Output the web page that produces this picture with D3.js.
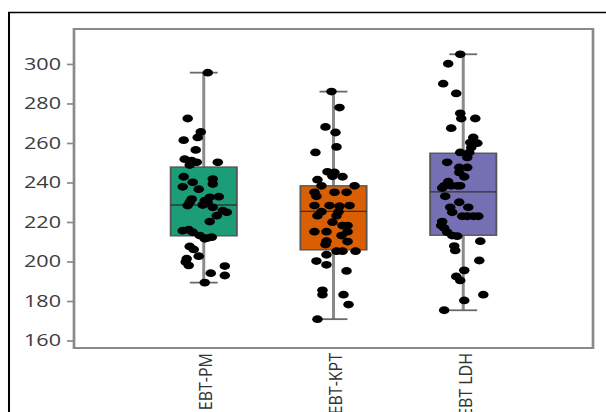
<!DOCTYPE html>
<html>
<head>
<meta charset="utf-8">
<script src="https://cdn.jsdelivr.net/npm/d3@7"></script>
<style>
  html, body { margin: 0; padding: 0; background: #fff; }
  svg { display: block; }
  text { font-family: "Open Sans", "Noto Sans", sans-serif; }
</style>
</head>
<body>
<svg id="chart" width="606" height="412"></svg>
<script>
// Groups on the x axis
const categories = ["EBT-PM", "EBT-KPT", "EBT LDH"];
const boxColors = ["#1b9e77", "#d95f02", "#7570b3"];

// Box statistics per group
const lows    = [189.3, 170.8, 175.3];
const q1s     = [213.0, 205.9, 213.3];
const medians = [228.6, 225.4, 235.2];
const q3s     = [247.8, 238.3, 254.8];
const highs   = [295.6, 286.0, 304.9];

// Individual observations per group
const valuesPM = [295.6, 272.4, 265.6, 262.8, 261.4, 256.5, 251.8, 251.0, 250.2, 250.2,
  248.8, 242.9, 241.7, 240.1, 239.2, 237.8, 236.6, 232.8, 232.5, 231.6, 230.0, 230.8,
  229.6, 228.3, 228.6, 227.4, 225.7, 224.9, 223.2, 220.2, 215.6, 216.1, 214.8, 213.1,
  211.8, 212.3, 211.5, 207.6, 206.1, 202.7, 201.4, 199.7, 198.0, 197.7, 194.1, 192.9, 189.3];
const valuesKPT = [286.0, 277.9, 268.1, 265.3, 258.0, 255.2, 245.4, 245.1, 243.1, 242.9,
  241.4, 238.3, 238.3, 235.0, 235.0, 235.0, 233.0, 228.3, 228.3, 228.0, 228.3, 225.2,
  223.2, 225.2, 223.2, 219.9, 218.2, 218.2, 215.1, 215.1, 215.1, 213.1, 210.3, 208.6,
  210.1, 205.2, 205.2, 205.2, 203.4, 200.2, 198.3, 195.2, 185.4, 183.2, 183.2, 178.2, 170.8];
const valuesLDH = [304.9, 300.1, 290.0, 285.1, 275.0, 272.4, 272.4, 267.5, 262.8, 260.2,
  259.9, 257.7, 255.2, 255.2, 252.7, 250.2, 247.6, 247.6, 245.1, 242.9, 240.4, 238.3,
  238.3, 237.2, 238.3, 238.3, 233.0, 230.0, 227.4, 227.4, 224.9, 222.9, 222.9, 222.9,
  222.9, 220.2, 218.2, 216.9, 214.8, 213.1, 212.8, 210.3, 207.8, 205.6, 200.5, 195.5,
  192.4, 190.4, 183.2, 180.3, 175.3];

// Horizontal jitter of each observation (-33 .. 33 spans the box width)
const jitterPM = [4, -16, -3, -6, -20, -8, -19, -12, -7, 14, -14, -20, 9, -11, 9, -21, -5,
  15, 6, -12, -14, 1, 4, -16, -1, 9, 19, 23, 13, 6, -21, -15, -11, -4, 3, 8, 1, -14, -10,
  -5, -17, -18, -15, 21, 7, 21, 1];
const jitterKPT = [-2, 6, -8, 2, 3, -18, -6, 1, -1, 9, -16, -12, 21, -19, 1, 13, -17, -19,
  -4, 6, 16, -12, -16, 5, 3, -1, 9, 14, -19, -7, 14, 8, -7, -8, 14, 3, 9, 22, -7, -17, -7,
  13, -11, -11, 10, 15, -16];
const jitterLDH = [-3, -15, -20, -7, -3, -2, 12, -12, 10, 7, 14, 8, -3, 6, 4, -16, -4, 4,
  -4, 1, -15, -19, -6, -21, -12, -3, -18, -4, -13, 5, -11, -1, 4, 10, 15, -21, -22, -19,
  -16, -11, -6, 17, -9, -8, 16, 1, -7, -3, 20, 1, -19];

const yTicks = [160, 180, 200, 220, 240, 260, 280, 300];

const groupValues = [valuesPM, valuesKPT, valuesLDH];
const groupJitter = [jitterPM, jitterKPT, jitterLDH];

// The whole figure is drawn horizontally widened
const SX = 1.35;
const plotLeft = 74 / SX, plotRight = 593 / SX, plotTop = 29, plotBottom = 348;

const svg = d3.select("#chart");
const g = svg.append("g").attr("transform", `scale(${SX},1)`);

const x = d3.scalePoint().domain(categories).range([plotLeft, plotRight]).padding(1);
const y = d3.scaleLinear().domain([156.2, 317.7]).range([plotBottom, plotTop]);
const step = x.step();
const boxW = step * 0.51;
const capW = step * 0.215;
const jit = d3.scaleLinear().domain([-33, 33]).range([-boxW / 2, boxW / 2]);

// outer frame
g.append("rect")
  .attr("x", 9 / SX).attr("y", 12.5)
  .attr("width", 700).attr("height", 600)
  .attr("fill", "none").attr("stroke", "#000").attr("stroke-width", 1.5);

// plot frame
g.append("rect")
  .attr("x", plotLeft).attr("y", plotTop)
  .attr("width", plotRight - plotLeft).attr("height", plotBottom - plotTop)
  .attr("fill", "none").attr("stroke", "#8a8a8a").attr("stroke-width", 2);

// y axis
const yAxis = g.append("g")
  .attr("transform", `translate(${plotLeft},0)`)
  .call(d3.axisLeft(y).tickValues(yTicks).tickSize(7 / SX).tickPadding(6 / SX));
yAxis.select(".domain").remove();
yAxis.selectAll(".tick line").attr("stroke", "#8a8a8a").attr("stroke-width", 1.7);
yAxis.selectAll(".tick text")
  .attr("fill", "#3c3c3c")
  .style("font-size", "16px")
  .style("font-family", "'Open Sans', 'Noto Sans', sans-serif");

// boxes
const stats = categories.map((c, i) => ({
  cat: c, color: boxColors[i], low: lows[i], q1: q1s[i], med: medians[i], q3: q3s[i], high: highs[i]
}));

const box = g.selectAll(".box").data(stats).join("g").attr("class", "box");

box.append("line")
  .attr("x1", d => x(d.cat)).attr("x2", d => x(d.cat))
  .attr("y1", d => y(d.high)).attr("y2", d => y(d.low))
  .attr("stroke", "#8a8a8a").attr("stroke-width", 2.2);

box.selectAll(".cap").data(d => [{ cat: d.cat, v: d.high }, { cat: d.cat, v: d.low }])
  .join("line").attr("class", "cap")
  .attr("x1", d => x(d.cat) - capW / 2).attr("x2", d => x(d.cat) + capW / 2)
  .attr("y1", d => y(d.v)).attr("y2", d => y(d.v))
  .attr("stroke", "#6a6a6a").attr("stroke-width", 1.8);

box.append("rect")
  .attr("x", d => x(d.cat) - boxW / 2).attr("width", boxW)
  .attr("y", d => y(d.q3)).attr("height", d => y(d.q1) - y(d.q3))
  .attr("fill", d => d.color).attr("stroke", "#555").attr("stroke-width", 1.4);

box.append("line")
  .attr("x1", d => x(d.cat) - boxW / 2).attr("x2", d => x(d.cat) + boxW / 2)
  .attr("y1", d => y(d.med)).attr("y2", d => y(d.med))
  .attr("stroke", "#333").attr("stroke-width", 1.3);

// jittered observations
const points = [];
categories.forEach((c, i) => {
  groupValues[i].forEach((v, k) => points.push({ cat: c, v, j: groupJitter[i][k] }));
});
g.selectAll(".pt").data(points).join("circle").attr("class", "pt")
  .attr("cx", d => x(d.cat) + jit(d.j))
  .attr("cy", d => y(d.v))
  .attr("r", 3.9)
  .attr("fill", "#000");

// category labels, rotated
g.selectAll(".xlab").data(categories).join("text").attr("class", "xlab")
  .attr("transform", d => `translate(${x(d) + 2 / SX},353) scale(0.8,1) rotate(-90)`)
  .attr("text-anchor", "end")
  .attr("dominant-baseline", "central")
  .attr("fill", "#333")
  .style("font-size", "16px")
  .text(d => d);
</script>
</body>
</html>
